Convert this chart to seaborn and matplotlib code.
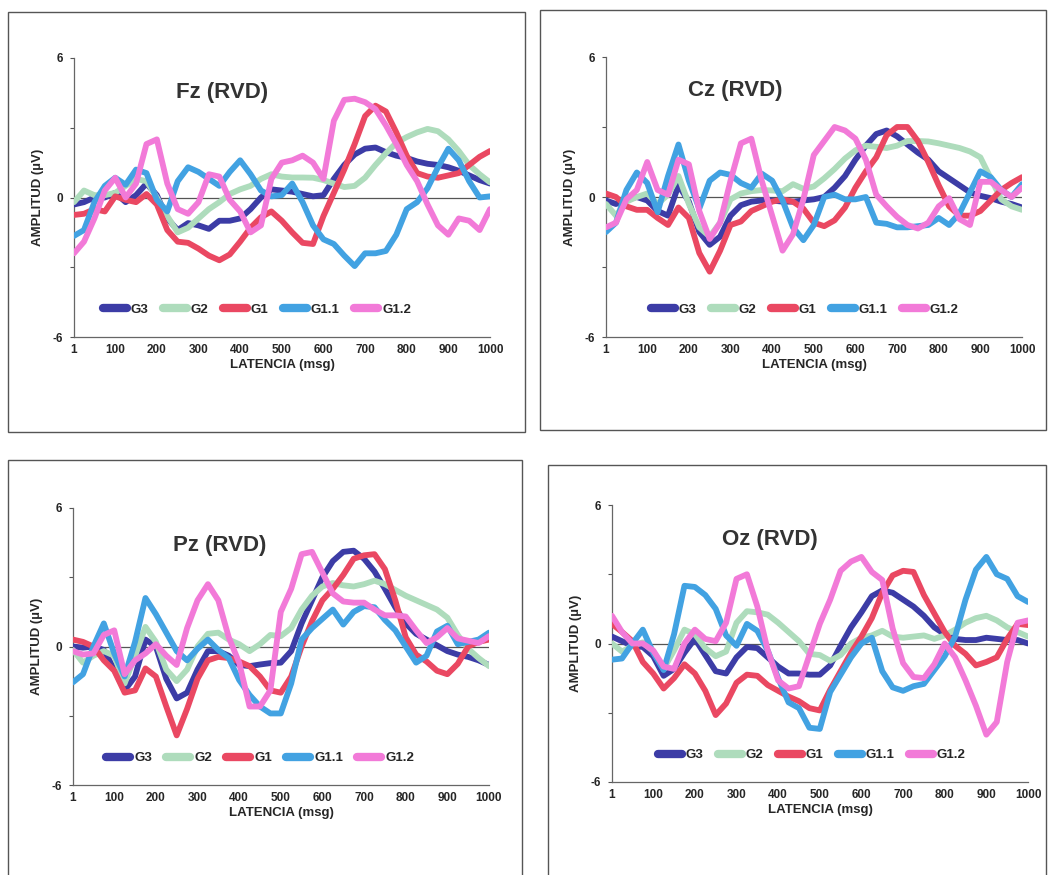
import matplotlib
matplotlib.use("Agg")
import matplotlib.pyplot as plt
import seaborn as sns
import pandas as pd
from matplotlib.lines import Line2D
from matplotlib.patches import Rectangle

# ---------------- data ----------------
MS = [1, 25, 50, 75, 100, 125, 150, 175, 200, 225, 250, 275, 300, 325, 350, 375, 400,
      425, 450, 475, 500, 525, 550, 575, 600, 625, 650, 675, 700, 725, 750, 775, 800,
      825, 850, 875, 900, 925, 950, 975, 1000]

GROUPS = ["G3", "G2", "G1", "G1.1", "G1.2"]
X_TICKS = [1, 100, 200, 300, 400, 500, 600, 700, 800, 900, 1000]
Y_TICKS = [-6, -3, 0, 3, 6]
Y_TICK_LABELS = ["-6", "", "0", "", "6"]
TITLES = ["Fz (RVD)", "Cz (RVD)", "Pz (RVD)", "Oz (RVD)"]

FZ_G3 = [-0.3, -0.2, 0.0, 0.0, 0.2, -0.2, 0.1, 0.6, 0.1, -0.9, -1.4, -1.1, -1.2, -1.35, -1.0, -1.0,
         -0.9, -0.5, 0.0, 0.35, 0.3, 0.25, 0.15, 0.05, 0.1, 0.8, 1.4, 1.85, 2.1, 2.15, 1.95, 1.8,
         1.7, 1.55, 1.45, 1.4, 1.3, 1.15, 0.95, 0.75, 0.6]
FZ_G2 = [-0.2, 0.3, 0.1, 0.1, 0.2, 0.5, 0.8, 0.7, 0.0, -0.8, -1.5, -1.3, -0.9, -0.5, -0.2, 0.15,
         0.35, 0.5, 0.8, 1.0, 0.9, 0.86, 0.86, 0.85, 0.75, 0.6, 0.45, 0.5, 0.85, 1.4, 1.9, 2.35,
         2.6, 2.8, 2.95, 2.85, 2.5, 2.0, 1.4, 1.0, 0.65]
FZ_G1 = [-0.75, -0.7, -0.5, -0.6, 0.05, -0.1, -0.2, 0.15, -0.3, -1.4, -1.9, -1.95, -2.2, -2.5,
         -2.7, -2.45, -1.9, -1.3, -0.85, -0.6, -1.0, -1.5, -1.95, -2.0, -0.8, 0.2, 1.2, 2.3, 3.5,
         3.95, 3.7, 2.8, 1.8, 1.05, 0.9, 0.85, 0.95, 1.05, 1.4, 1.75, 2.0]
FZ_G11 = [-1.65, -1.4, -0.2, 0.5, 0.85, 0.55, 1.2, 1.05, -0.1, -0.6, 0.7, 1.3, 1.1, 0.8, 0.5, 1.1,
          1.6, 1.0, 0.3, 0.05, 0.1, 0.6, -0.2, -1.2, -1.8, -2.0, -2.5, -2.95, -2.4, -2.4, -2.3,
          -1.6, -0.5, -0.2, 0.4, 1.3, 2.1, 1.6, 0.7, 0.0, 0.05]
FZ_G12 = [-2.4, -1.9, -0.9, 0.3, 0.85, 0.0, 0.6, 2.3, 2.5, 0.6, -0.5, -0.7, -0.2, 1.0, 0.9, -0.1,
          -0.6, -1.5, -1.2, 0.8, 1.5, 1.6, 1.8, 1.5, 0.8, 3.3, 4.2, 4.25, 4.1, 3.8, 3.1, 2.3, 1.4,
          0.7, -0.3, -1.2, -1.6, -0.9, -1.0, -1.4, -0.5]

CZ_G3 = [-0.15, -0.3, -0.1, 0.0, -0.15, -0.6, -0.8, 0.5, -0.2, -1.5, -2.05, -1.7, -0.8, -0.35,
         -0.2, -0.15, -0.15, -0.2, -0.2, -0.15, -0.1, 0.0, 0.4, 0.9, 1.6, 2.2, 2.7, 2.85, 2.6,
         2.25, 1.9, 1.6, 1.1, 0.8, 0.5, 0.2, 0.05, -0.05, -0.2, -0.3, -0.45]
CZ_G2 = [-0.3, -0.8, -0.2, 0.0, 0.15, -0.3, 0.1, 0.9, -0.3, -1.3, -1.7, -1.1, -0.1, 0.15, 0.25,
         0.3, 0.28, 0.25, 0.55, 0.35, 0.45, 0.8, 1.2, 1.65, 2.0, 2.2, 2.15, 2.1, 2.2, 2.4, 2.4,
         2.38, 2.3, 2.2, 2.1, 1.95, 1.7, 0.8, -0.1, -0.4, -0.55]
CZ_G1 = [0.15, 0.0, -0.4, -0.55, -0.55, -0.9, -1.2, -0.45, -0.9, -2.4, -3.2, -2.3, -1.2, -1.05,
         -0.6, -0.4, -0.2, -0.1, -0.2, -0.5, -1.1, -1.25, -1.0, -0.45, 0.4, 1.1, 1.7, 2.65, 3.0,
         3.0, 2.4, 1.5, 0.5, -0.4, -0.8, -0.8, -0.6, -0.15, 0.3, 0.6, 0.85]
CZ_G11 = [-1.5, -1.1, 0.3, 1.05, 0.6, -0.65, 0.9, 2.25, 0.7, -0.5, 0.7, 1.05, 0.95, 0.6, 0.4,
          1.0, 0.7, -0.15, -1.3, -1.85, -1.2, 0.0, 0.1, -0.1, -0.1, 0.0, -1.1, -1.15, -1.3, -1.3,
          -1.25, -1.2, -0.9, -1.2, -0.7, 0.2, 1.1, 0.85, 0.3, 0.0, 0.55]
CZ_G12 = [-1.3, -1.1, -0.1, 0.3, 1.5, 0.3, 0.1, 1.6, 1.4, -0.6, -1.8, -1.1, 0.7, 2.3, 2.5, 0.7,
          -0.8, -2.3, -1.6, -0.1, 1.8, 2.4, 3.0, 2.85, 2.5, 1.6, 0.1, -0.4, -0.85, -1.2, -1.35,
          -1.1, -0.4, -0.05, -0.95, -1.2, 0.65, 0.65, 0.3, 0.0, 0.4]

PZ_G3 = [0.0, -0.05, 0.0, -0.15, -1.0, -1.9, -1.3, 0.3, 0.0, -1.4, -2.25, -2.0, -1.0, -0.2, -0.2,
         -0.4, -0.8, -0.85, -0.78, -0.72, -0.7, -0.2, 1.0, 2.0, 3.0, 3.7, 4.1, 4.15, 3.8, 3.25,
         2.5, 1.7, 1.0, 0.55, 0.3, 0.05, -0.2, -0.35, -0.45, -0.6, -0.8]
PZ_G2 = [-0.15, -0.7, -0.4, -0.2, -0.4, -1.6, -0.4, 0.85, 0.2, -1.0, -1.5, -1.0, 0.0, 0.55, 0.6,
         0.3, 0.1, -0.2, 0.1, 0.5, 0.45, 0.8, 1.6, 2.2, 2.6, 2.75, 2.65, 2.6, 2.7, 2.85, 2.7,
         2.45, 2.2, 2.0, 1.8, 1.6, 1.25, 0.5, -0.1, -0.5, -0.85]
PZ_G1 = [0.3, 0.2, 0.0, -0.6, -1.05, -2.0, -1.9, -0.95, -1.3, -2.6, -3.85, -2.7, -1.4, -0.6,
         -0.45, -0.5, -0.65, -0.85, -1.3, -1.9, -2.0, -1.3, 0.0, 1.1, 2.0, 2.5, 3.1, 3.8, 3.95,
         4.0, 3.35, 2.0, 0.4, -0.35, -0.65, -1.05, -1.2, -0.75, 0.0, 0.2, 0.3]
PZ_G11 = [-1.55, -1.2, 0.0, 1.0, -0.3, -1.3, 0.2, 2.1, 1.4, 0.6, -0.2, -0.6, -0.1, 0.3, -0.15,
          -0.5, -1.45, -2.1, -2.6, -2.9, -2.9, -1.6, 0.3, 0.8, 1.2, 1.6, 0.95, 1.5, 1.75, 1.7,
          1.15, 0.7, 0.0, -0.7, -0.4, 0.65, 0.9, 0.1, 0.2, 0.3, 0.6]
PZ_G12 = [-0.2, -0.35, -0.3, 0.5, 0.7, -1.2, -0.6, -0.3, 0.1, -0.4, -0.8, 0.8, 2.0, 2.7, 2.0,
          0.4, -0.7, -2.6, -2.6, -1.9, 1.5, 2.5, 4.0, 4.1, 3.2, 2.3, 1.95, 1.9, 1.9, 1.6, 1.35,
          1.35, 1.3, 0.7, 0.15, 0.4, 0.8, 0.35, 0.25, 0.15, 0.45]

OZ_G3 = [0.3, 0.1, -0.1, -0.15, -0.55, -1.4, -1.1, -0.4, 0.2, -0.5, -1.2, -1.3, -0.6, -0.15,
         -0.2, -0.6, -1.0, -1.3, -1.3, -1.35, -1.35, -0.95, -0.1, 0.7, 1.35, 2.05, 2.3, 2.2, 1.9,
         1.6, 1.2, 0.7, 0.4, 0.2, 0.15, 0.15, 0.25, 0.2, 0.15, 0.15, 0.0]
OZ_G2 = [0.0, -0.35, -0.1, 0.05, -0.35, -1.1, -0.3, 0.6, 0.4, -0.2, -0.55, -0.35, 0.9, 1.4,
         1.35, 1.25, 0.9, 0.5, 0.1, -0.45, -0.5, -0.75, -0.5, 0.0, 0.25, 0.35, 0.55, 0.3, 0.25,
         0.3, 0.35, 0.2, 0.35, 0.6, 0.9, 1.1, 1.2, 1.0, 0.7, 0.5, 0.3]
OZ_G1 = [0.85, 0.5, 0.1, -0.8, -1.3, -1.95, -1.5, -0.9, -1.3, -2.05, -3.1, -2.6, -1.7, -1.35,
         -1.4, -1.8, -2.05, -2.3, -2.5, -2.8, -2.9, -2.0, -1.2, -0.4, 0.3, 1.1, 2.2, 2.95, 3.15,
         3.1, 2.1, 1.3, 0.5, -0.1, -0.45, -0.95, -0.8, -0.6, 0.2, 0.85, 0.8]
OZ_G11 = [-0.7, -0.65, 0.0, 0.6, -0.4, -1.15, 0.4, 2.5, 2.45, 2.1, 1.5, 0.35, -0.1, 0.85, 0.55,
          -0.3, -1.5, -2.55, -2.8, -3.65, -3.7, -2.1, -1.35, -0.6, 0.0, 0.25, -1.2, -1.9, -2.05,
          -1.85, -1.75, -1.15, -0.55, 0.3, 1.9, 3.2, 3.75, 3.0, 2.8, 2.05, 1.8]
OZ_G12 = [1.2, 0.5, 0.0, 0.0, -0.3, -1.0, -1.1, 0.0, 0.6, 0.2, 0.1, 0.9, 2.8, 3.0, 1.6, -0.3,
          -1.6, -1.95, -1.85, -0.5, 0.85, 1.9, 3.15, 3.55, 3.75, 3.1, 2.75, 0.65, -0.85, -1.45,
          -1.5, -0.9, 0.0, -0.6, -1.6, -2.7, -3.95, -3.4, -0.8, 0.9, 1.0]

PANELS = [
    [FZ_G3, FZ_G2, FZ_G1, FZ_G11, FZ_G12],
    [CZ_G3, CZ_G2, CZ_G1, CZ_G11, CZ_G12],
    [PZ_G3, PZ_G2, PZ_G1, PZ_G11, PZ_G12],
    [OZ_G3, OZ_G2, OZ_G1, OZ_G11, OZ_G12],
]

# ---------------- styling ----------------
COLORS = ["#3C3CA6", "#AEDCBC", "#EA4862", "#42A2E2", "#F27AD8"]
W, H = 1048, 875

sns.set_theme(style="white")
plt.rcParams["font.family"] = ["Liberation Sans", "DejaVu Sans"]
plt.rcParams["font.weight"] = "bold"

fig = plt.figure(figsize=(W / 100, H / 100), dpi=100)
fig.patch.set_facecolor("white")


def frac_rect(x0, y0, x1, y1):
    return [x0 / W, 1 - y1 / H, (x1 - x0) / W, (y1 - y0) / H]


# panel frames (pixels)
FRAMES = [(8, 12, 525, 432), (540, 10, 1046, 430), (8, 460, 522, 880), (548, 465, 1046, 880)]
for (x0, y0, x1, y1) in FRAMES:
    fig.patches.append(Rectangle((x0 / W, 1 - y1 / H), (x1 - x0) / W, (y1 - y0) / H,
                                 transform=fig.transFigure, fill=False,
                                 edgecolor="#555555", linewidth=1.0))

# plot areas (pixels)
AXES = [(74, 58, 490, 337), (606, 57, 1022, 337), (73, 508, 489, 785), (612, 505, 1028, 782)]
TITLE_POS = [(0.356, 0.878), (0.31, 0.88), (0.353, 0.863), (0.38, 0.874)]
LEG_X = [0.44, 0.478, 0.45, 0.48]

for i, box in enumerate(AXES):
    ax = fig.add_axes(frac_rect(*box))
    rows = []
    for g, vals in zip(GROUPS, PANELS[i]):
        for m, v in zip(MS, vals):
            rows.append({"ms": m, "amp": v, "grupo": g})
    df = pd.DataFrame(rows)
    ax.axhline(0, color="#555555", lw=0.9, zorder=1)
    sns.lineplot(data=df, x="ms", y="amp", hue="grupo", hue_order=GROUPS,
                 palette=COLORS, linewidth=4.2, legend=False, ax=ax, zorder=3)
    ax.set_xlim(1, 1000)
    ax.set_ylim(-6, 6)
    ax.set_xticks(X_TICKS)
    ax.set_xticklabels([str(t) for t in X_TICKS], fontsize=8.5, fontweight="bold")
    ax.set_yticks(Y_TICKS)
    ax.set_yticklabels(Y_TICK_LABELS, fontsize=8.5, fontweight="bold")
    ax.tick_params(axis="y", length=3, width=0.8, color="#555555", pad=5, left=True)
    ax.tick_params(axis="x", length=0, pad=5)
    for s in ["top", "right"]:
        ax.spines[s].set_visible(False)
    for s in ["left", "bottom"]:
        ax.spines[s].set_color("#666666")
        ax.spines[s].set_linewidth(0.9)
    ax.set_xlabel("LATENCIA (msg)", fontsize=9.5, fontweight="bold", labelpad=2)
    ax.set_ylabel("AMPLITUD (µV)", fontsize=9.5, fontweight="bold", labelpad=6)
    ax.text(TITLE_POS[i][0], TITLE_POS[i][1], TITLES[i], transform=ax.transAxes,
            ha="center", va="center", fontsize=16, fontweight="bold", color="#333333")
    handles = [Line2D([0], [0], color=c, lw=6, solid_capstyle="round") for c in COLORS]
    ax.legend(handles, GROUPS, loc="center", bbox_to_anchor=(LEG_X[i], 0.097), ncol=5,
              frameon=False, handlelength=1.8, handletextpad=0.3,
              columnspacing=1.1, prop={"weight": "bold", "size": 9.5})
    ax.set_facecolor("white")

fig.savefig("out.png", dpi=100, facecolor="white")
